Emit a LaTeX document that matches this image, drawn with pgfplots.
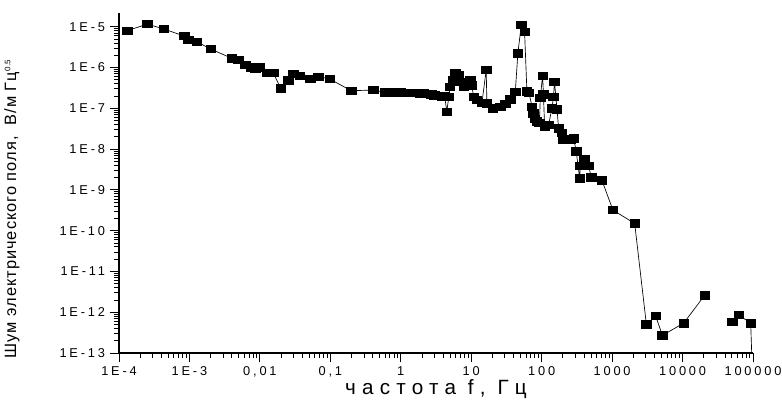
\documentclass[border=0pt]{standalone}
\usepackage{fontspec}
\setmainfont{Liberation Sans}
\newfontfamily\tickfont[LetterSpace=22]{Liberation Sans}
\newfontfamily\xlabfont[LetterSpace=30]{Liberation Sans}
\newfontfamily\ylabfont[LetterSpace=6]{Liberation Sans}
\usepackage{pgfplots}
\pgfplotsset{compat=1.18}

\begin{document}
\begin{tikzpicture}
\begin{axis}[
    xmode=log, ymode=log,
    scale only axis,
    width=475.5pt, height=254.8pt,
    xmin=1e-4, xmax=1e5,
    ymin=1e-13, ymax=2.14e-5,
    axis x line*=bottom, axis y line*=left,
    axis line style={-, line width=0.9pt},
    tick align=outside,
    major tick length=7pt, minor tick length=4pt,
    tick style={black, line width=0.6pt},
    xtick={1e-4,1e-3,1e-2,1e-1,1,10,100,1000,10000,100000},
    xticklabels={1E-4,1E-3,{0,01},{0,1},1,10,100,1000,10000,100000},
    ytick={1e-13,1e-12,1e-11,1e-10,1e-9,1e-8,1e-7,1e-6,1e-5},
    yticklabels={1E-13,1E-12,1E-11,1E-10,1E-9,1E-8,1E-7,1E-6,1E-5},
    ticklabel style={font=\tickfont\fontsize{9.6}{11}\selectfont},
    xlabel={частота f, Гц},
    ylabel={Шум электрического поля,\ \ В/м Гц\textsuperscript{\fontsize{6}{7}\selectfont 0.5}},
    xlabel style={at={(axis description cs:0.5,-0.105)}, anchor=center,
      font=\xlabfont\fontsize{15.5}{18}\selectfont},
    ylabel style={at={(axis description cs:-0.169,0.425)}, anchor=center, rotate=0,
      font=\ylabfont\fontsize{12.3}{14}\selectfont},
    unbounded coords=jump,
    clip=true,
]
\addplot[black, line width=0.5pt, mark=square*, mark size=3.1pt,
  mark options={xscale=1.15, yscale=0.9, fill=black}] coordinates {
(1.31e-4,8.0e-6) (2.52e-4,1.16e-5) (4.35e-4,8.8e-6) (8.4e-4,5.9e-6)
(9.6e-4,4.7e-6) (1.27e-3,4.3e-6) (2.0e-3,2.84e-6) (4.0e-3,1.68e-6)
(4.95e-3,1.53e-6) (6.2e-3,1.15e-6) (7.5e-3,1.02e-6) (8.6e-3,0.93e-6)
(1.0e-2,1.0e-6) (1.25e-2,7.4e-7) (1.55e-2,7.4e-7) (1.97e-2,3.1e-7)
(2.54e-2,4.9e-7) (2.99e-2,6.9e-7) (3.7e-2,6.2e-7) (5.16e-2,5.2e-7)
(6.78e-2,6.0e-7) (9.9e-2,5.2e-7) (0.197,2.7e-7) (0.409,2.8e-7)
(0.6,2.45e-7) (0.7,2.45e-7) (0.8,2.45e-7) (0.9,2.44e-7) (1.0,2.44e-7)
(1.15,2.43e-7) (1.3,2.42e-7) (1.5,2.4e-7) (1.7,2.38e-7) (1.9,2.35e-7)
(2.1,2.3e-7) (2.4,2.25e-7) (2.7,2.2e-7) (3.0,2.1e-7) (3.4,2.0e-7)
(3.8,1.95e-7) (4.2,1.95e-7) (4.5,8.3e-8) (4.8,1.9e-7) (5.0,3.4e-7)
(5.5,5.0e-7) (5.9,7.2e-7) (6.6,6.6e-7) (7.0,4.5e-7) (7.8,3.4e-7)
(8.5,3.5e-7) (9.7,4.9e-7) (10.2,3.7e-7) (10.8,1.9e-7) (12.0,1.6e-7)
(14.2,1.37e-7) (16.3,8.7e-7) (16.7,1.32e-7) (20.3,1.0e-7) (25.8,1.1e-7)
(30.4,1.3e-7) (35.8,1.65e-7) (42.2,2.5e-7) (45.9,2.2e-6) (51.3,1.1e-5)
(57.2,7.5e-6) (61.7,2.6e-7) (66,2.4e-7) (72.9,1.1e-7) (76.7,7.6e-8)
(80,5.6e-8) (85,4.8e-8) (93,4.4e-8) (95.5,1.8e-7) (103,6.2e-7)
(106,2.2e-7) (110,3.5e-8) (125,3.9e-8) (140,1.0e-7) (147,1.9e-7)
(152,4.5e-7) (165,9.5e-8) (174,3.2e-8) (194,2.5e-8) (204,1.74e-8)
(230,1.7e-8) (255,1.66e-8) (284,1.85e-8) (309,8.9e-9) (346,1.9e-9)
(353,3.9e-9) (403,5.6e-9) (463,3.9e-9) (507,2.03e-9) (718,1.7e-9)
(1025,3.2e-10) (2090,1.5e-10) (3060,5.1e-13) (4150,8.1e-13)
(5170,2.7e-13) (10370,5.4e-13) (20600,2.6e-12) (30000,nan)
(50900,5.9e-13) (62600,8.5e-13) (92700,5.4e-13) (100000,1e-14)
};
\coordinate (bbsw) at (rel axis cs:-0.1877,-0.1737);
\coordinate (bbne) at (rel axis cs:1.0457,1.039);
\end{axis}
\pgfresetboundingbox
\path[use as bounding box] (bbsw) rectangle (bbne);
\end{tikzpicture}
\end{document}
